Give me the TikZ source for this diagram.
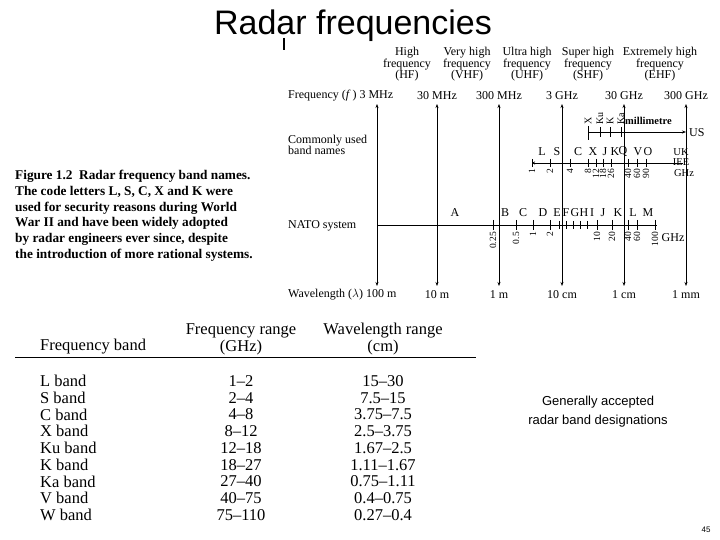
\documentclass[tikz,border=0pt]{standalone}
\usepackage{fontspec}
\setmainfont{Liberation Serif}
\setsansfont{Liberation Sans}
\usetikzlibrary{arrows.meta}
\begin{document}
\begin{tikzpicture}[x=1pt,y=-1pt,
  lab/.style={font=\fontsize{12}{11}\selectfont,inner sep=0pt},
  cat/.style={lab,align=center},
  sm/.style={font=\fontsize{10.5}{10}\selectfont,inner sep=0pt},
  rot/.style={font=\fontsize{9.5}{9}\selectfont,inner sep=0pt,rotate=90,anchor=east},
  tbl/.style={font=\fontsize{16.5}{17}\selectfont,inner sep=0pt},
  ax/.style={line width=0.9pt,{Stealth[length=4pt,width=3pt]}-{Stealth[length=4pt,width=3pt]}},
  tk/.style={line width=0.7pt}]
\useasboundingbox (0,0) rectangle (720,540);
\fill[white] (0,0) rectangle (720,540);
\node[font=\sffamily\fontsize{34}{36}\selectfont] (title) at (353,26) {Radar frequencies};
\draw[line width=2pt] (284,38) -- (284,50);
% categories
\node[cat] (hf) at (407,64) {High\\frequency\\(HF)};
\node[cat] (vhf) at (467,64) {Very high\\frequency\\(VHF)};
\node[cat] (uhf) at (527,64) {Ultra high\\frequency\\(UHF)};
\node[cat] (shf) at (588,64) {Super high\\frequency\\(SHF)};
\node[cat] (ehf) at (660,64) {Extremely high\\frequency\\(EHF)};
% left labels
\node[lab,anchor=west] (fl) at (288,96) {Frequency (\textit{f}\,) 3 MHz};
\node[lab,anchor=west,align=left] (cl) at (288,145) {Commonly used\\band names};
\node[lab,anchor=west] (nl) at (288,226) {NATO system};
\node[lab,anchor=west] (wl) at (288,295) {Wavelength ($\lambda$)\ 100 m};
% frequency / wavelength labels
\foreach \x/\f/\w/\n in {437/30 MHz/10 m/b,499/300 MHz/1 m/c,562/3 GHz/10 cm/d,624/30 GHz/1 cm/e,686/300 GHz/1 mm/f}{
  \node[lab] (f\n) at (\x,96) {\f};
  \node[lab] (w\n) at (\x,295) {\w};}
\foreach \x/\n in {377/a,437/b,499/c,562/d,624/e,686/f}{
  \coordinate (t\n) at (\x,104); \coordinate (b\n) at (\x,286);
  \draw[ax] (t\n) -- (b\n);}
% US line
\coordinate (us0) at (588,132); \coordinate (us1) at (686,132);
\draw[tk,-{Stealth[length=4pt,width=3pt]}] (us0) -- (us1);
\draw[tk] (588,126) -- (588,140);
\foreach \x/\t in {588/X,600/Ku,610/K,621/Ka}{
  \draw[tk] (\x,127) -- (\x,137);
  \node[rot,anchor=west,font=\fontsize{10}{9}\selectfont] at (\x,125) {\t};}
\node[lab,font=\fontsize{10.5}{10}\selectfont\bfseries,anchor=west] (mm) at (625,121) {millimetre};
\node[lab,anchor=west] (us) at (689,133) {US};
% UK IEE line
\coordinate (uk0) at (532,163); \coordinate (uk1) at (683,163);
\draw[tk,{Stealth[length=3pt,width=3pt]}-] (uk0) -- (uk1);
\foreach \x/\t in {532/1,550/2,570/4,588/8,596/12,603/18,611/26,628/40,637/60,646/90}{
  \draw[tk] (\x,159) -- (\x,167);
  \node[rot] at (\x,169) {\t};}
\foreach \x/\t in {542/L,557/S,578/C,593/X,605/J,615/K,623/Q,638/V,648/O}{
  \node[lab] at (\x,152) {\t};}
\node[sm] (uk) at (681,152) {UK};
\node[sm] (iee) at (681,162.5) {IEE};
\node[sm] (ghz1) at (684,173) {GHz};
% NATO line
\coordinate (n0) at (377,225); \coordinate (n1) at (657,225);
\draw[tk] (n0) -- (n1);
\foreach \x/\t in {493/0.25,516/0.5,533/1,550/2,597/10,612/20,628/40,637/60,655/100}{
  \draw[tk] (\x,220) -- (\x,230);
  \node[rot] at (\x,232) {\t};}
\foreach \x in {559,566,573,580,587}{\draw[tk] (\x,221) -- (\x,229);}
\foreach \x/\t in {455/A,505/B,523/C,543/D,557/E,566/F,575/G,584/H,592/I,603/J,618/K,633/L,648/M}{
  \node[lab] at (\x,213) {\t};}
\node[lab] (ghz2) at (673,238) {GHz};
% caption
\node[anchor=north west,align=left,inner sep=0pt,font=\fontsize{13.3}{15.8}\selectfont\bfseries] (cap) at (15,170)
{Figure 1.2\ \ Radar frequency band names.\\The code letters L, S, C, X and K were\\used for security reasons during World\\War II and have been widely adopted\\by radar engineers ever since, despite\\the introduction of more rational systems.};
% table
\node[tbl,anchor=west] (h1) at (40,347) {Frequency band};
\node[tbl,align=center] (h2) at (241,339) {Frequency range\\(GHz)};
\node[tbl,align=center] (h3) at (383,339) {Wavelength range\\(cm)};
\draw[line width=0.8pt] (15,357) -- (476,357);
\foreach \i/\b/\f/\w in {0/L band/1--2/15--30,1/S band/2--4/7.5--15,2/C band/4--8/3.75--7.5,3/X band/8--12/2.5--3.75,4/Ku band/12--18/1.67--2.5,5/K band/18--27/1.11--1.67,6/Ka band/27--40/0.75--1.11,7/V band/40--75/0.4--0.75,8/W band/75--110/0.27--0.4}{
  \node[tbl,anchor=west] at (40,381+16.75*\i) {\b};
  \node[tbl] at (241,381+16.75*\i) {\f};
  \node[tbl] at (383,381+16.75*\i) {\w};}
\node[font=\sffamily\fontsize{13}{19}\selectfont,align=center] (gen) at (598,412) {Generally accepted\\radar band designations};
\node[font=\sffamily\fontsize{8}{9}\selectfont] (pg) at (706,530) {45};
\end{tikzpicture}
\end{document}
